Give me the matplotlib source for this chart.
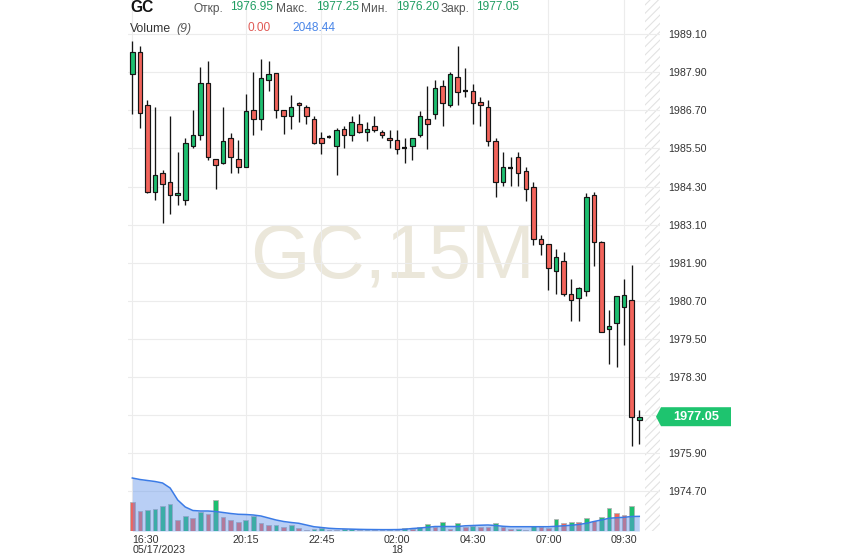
import matplotlib
matplotlib.use('Agg')
import matplotlib.pyplot as plt
import matplotlib.transforms as mtransforms
from matplotlib.patches import Rectangle, Polygon
import numpy as np

plt.rcParams['font.family'] = ['Liberation Sans', 'DejaVu Sans']
plt.rcParams['hatch.linewidth'] = 0.8

# ---------------- data ----------------
symbol = 'GC'
timeframe = '15M'
ma_period = 9

opens = [1987.83, 1988.53, 1986.88, 1984.13, 1984.73, 1984.44, 1984.03, 1983.87, 1985.58, 1985.92,
         1987.55, 1985.18, 1985.04, 1985.84, 1985.18, 1984.92, 1986.72, 1986.43, 1987.67, 1987.89,
         1986.72, 1986.53, 1986.94, 1986.81, 1986.43, 1985.83, 1985.86, 1985.58, 1986.12, 1985.93,
         1986.28, 1986.02, 1986.21, 1986.02, 1985.83, 1985.77, 1985.50, 1985.58, 1985.93, 1986.43,
         1986.59, 1987.48, 1986.88, 1987.76, 1987.30, 1987.32, 1986.97, 1986.81, 1985.74, 1984.44,
         1984.89, 1985.23, 1984.79, 1984.28, 1982.64, 1982.48, 1981.63, 1981.95, 1980.93, 1980.78,
         1981.00, 1984.03, 1982.55, 1979.80, 1979.99, 1980.52, 1980.74, 1976.95]
highs = [1988.88, 1988.74, 1987.04, 1986.81, 1984.82, 1986.53, 1985.39, 1985.84, 1986.72, 1988.08,
         1988.24, 1985.18, 1986.81, 1985.99, 1985.77, 1987.21, 1987.90, 1988.33, 1988.24, 1987.89,
         1986.72, 1987.19, 1986.97, 1986.88, 1986.53, 1986.02, 1985.93, 1986.15, 1986.21, 1986.53,
         1986.59, 1986.34, 1986.53, 1986.09, 1986.09, 1986.09, 1985.83, 1985.83, 1986.69, 1987.48,
         1987.64, 1987.64, 1987.92, 1988.74, 1988.02, 1987.54, 1987.13, 1987.04, 1985.83, 1985.39,
         1985.23, 1985.39, 1984.92, 1984.44, 1982.77, 1982.48, 1982.32, 1982.23, 1981.38, 1981.12,
         1984.10, 1984.13, 1982.58, 1980.40, 1980.84, 1981.38, 1981.82, 1977.25]
lows = [1986.58, 1986.13, 1984.10, 1983.87, 1983.16, 1983.42, 1983.72, 1983.72, 1985.51, 1985.76,
        1985.13, 1984.21, 1985.02, 1984.72, 1984.72, 1984.90, 1985.92, 1986.09, 1987.32, 1986.47,
        1985.94, 1986.12, 1986.34, 1986.26, 1985.63, 1985.32, 1985.84, 1984.66, 1985.52, 1985.74,
        1985.99, 1985.74, 1986.02, 1985.83, 1985.52, 1985.32, 1985.04, 1985.14, 1985.87, 1985.49,
        1986.43, 1986.21, 1986.81, 1986.88, 1987.13, 1986.28, 1986.21, 1985.58, 1983.97, 1984.32,
        1984.32, 1984.32, 1983.84, 1982.47, 1982.14, 1981.03, 1980.93, 1980.84, 1980.08, 1980.08,
        1980.84, 1981.79, 1979.73, 1978.72, 1978.63, 1979.31, 1976.13, 1976.20]
closes = [1988.53, 1986.62, 1984.13, 1984.67, 1984.39, 1984.03, 1984.10, 1985.68, 1985.93, 1987.55,
          1985.23, 1984.98, 1985.74, 1985.23, 1984.92, 1986.69, 1986.43, 1987.73, 1987.83, 1986.72,
          1986.53, 1986.81, 1986.88, 1986.53, 1985.66, 1985.66, 1985.86, 1986.09, 1985.93, 1986.34,
          1986.02, 1986.12, 1986.09, 1985.93, 1985.77, 1985.49, 1985.50, 1985.83, 1986.53, 1986.28,
          1987.41, 1986.94, 1987.83, 1987.29, 1987.30, 1986.94, 1986.88, 1985.74, 1984.44, 1984.92,
          1984.89, 1984.73, 1984.22, 1982.64, 1982.48, 1981.72, 1982.07, 1980.93, 1980.74, 1981.09,
          1983.97, 1982.55, 1979.73, 1979.92, 1980.84, 1980.87, 1977.05, 1977.05]
volumes = [4100, 2840, 2980, 3120, 3540, 3740, 1580, 2140, 1860, 2700,
           2420, 4380, 2000, 1580, 1220, 1580, 2140, 1080, 800, 820,
           520, 880, 460, 210, 350, 490, 140, 110, 280, 310,
           140, 170, 140, 110, 210, 170, 420, 280, 600, 1050,
           630, 1300, 320, 1080, 600, 700, 630, 600, 1080, 600,
           280, 320, 210, 770, 520, 490, 1720, 1080, 1300, 1260,
           1860, 1440, 2000, 3260, 2560, 2200, 3570, 0]
vol_ma = [7420, 7210, 7070, 6930, 6720, 6020, 4340, 3360, 2870, 2800,
          2800, 2730, 2590, 2450, 2340, 2310, 2240, 2100, 1820, 1540,
          1330, 1190, 1080, 840, 600, 490, 380, 320, 290, 260,
          230, 210, 200, 190, 190, 200, 240, 350, 420, 520,
          630, 630, 630, 630, 730, 770, 810, 840, 770, 660,
          600, 600, 600, 600, 600, 600, 660, 730, 800, 910,
          1080, 1330, 1540, 1780, 1860, 1920, 2030, 2048.44]
time_labels = ['16:30\n05/17/2023', '20:15', '22:45', '02:00\n18', '04:30', '07:00', '09:30']
time_label_idx = [0, 15, 25, 35, 45, 55, 65]
price_ticks = [1974.70, 1975.90, 1977.10, 1978.30, 1979.50, 1980.70, 1981.90,
               1983.10, 1984.30, 1985.50, 1986.70, 1987.90, 1989.10]
header_labels = ['Откр.', 'Макс.', 'Мин.', 'Закр.']

# ---------------- style ----------------
GREEN = '#1dbf70'
RED = '#f2645b'
EDGE = '#151515'
GRID = '#ececec'
TXT = '#333333'

W, H = 843, 558
fig = plt.figure(figsize=(W / 100, H / 100), dpi=100)
ax_l, ax_r, ax_t, ax_b = 128, 660, 0, 531
ax = fig.add_axes([ax_l / W, 1 - ax_b / H, (ax_r - ax_l) / W, (ax_b - ax_t) / H])

n = len(opens)
idx = np.arange(n)
xmin, xmax = -0.57, 69.74
ymin, ymax = 1973.45, 1990.175
ax.set_xlim(xmin, xmax)
ax.set_ylim(ymin, ymax)

for s in ax.spines.values():
    s.set_visible(False)

# gridlines
for t in price_ticks:
    ax.axhline(t, color=GRID, lw=0.8, zorder=0.6)
for t in time_label_idx:
    ax.axvline(t, color=GRID, lw=0.8, zorder=0.6)

# hatched future strip
blend = mtransforms.blended_transform_factory(ax.transData, ax.transAxes)
ax.add_patch(Rectangle((67.75, 0), xmax - 67.75, 1, transform=blend, facecolor='none',
                       edgecolor='#e2e2e2', hatch='////', lw=0, zorder=0.4))

# watermark
ax.text(0.498, 0.514, f'{symbol},{timeframe}', transform=ax.transAxes, fontsize=55,
        color='#ebe7da', ha='center', va='center', zorder=0.3)

# candles
for i in range(n):
    o, h, l, c = opens[i], highs[i], lows[i], closes[i]
    ax.vlines(i, l, h, color=EDGE, lw=0.95, zorder=3)
    lo, hi = min(o, c), max(o, c)
    if hi - lo < 0.02:
        ax.hlines((o + c) / 2, i - 0.3, i + 0.3, color=EDGE, lw=1.6, zorder=4)
    else:
        ax.bar(i, hi - lo, bottom=lo, width=0.6, color=GREEN if c > o else RED,
               edgecolor=EDGE, lw=0.85, zorder=4)

# volume (twin axis)
ax2 = ax.twinx()
ax2.set_ylim(0, (ax_b - ax_t) * 140)
ax2.set_xlim(xmin, xmax)
ax2.set_yticks([])
for s in ax2.spines.values():
    s.set_visible(False)
vcol = [RED] + [GREEN if volumes[i] >= volumes[i - 1] else RED for i in range(1, n)]
ax2.bar(idx, volumes, width=0.62, color=vcol, edgecolor='#b4b4b4', lw=0.6, zorder=2)
ax2.fill_between(idx, 0, vol_ma, color=(100 / 255, 150 / 255, 235 / 255), alpha=0.45, lw=0, zorder=3)
ax2.plot(idx, vol_ma, color='#3b7be6', lw=1.1, zorder=4)

# axes ticks (after twinx so the price labels stay on the right)
ax.yaxis.tick_right()
ax.yaxis.set_label_position('right')
ax.set_yticks(price_ticks)
ax.set_yticklabels([f'{t:.2f}' if abs(t - closes[-1]) > 0.3 else '' for t in price_ticks])
ax.tick_params(axis='y', which='both', left=False, right=False, labelleft=False,
               labelright=True, length=0, pad=5.8, labelsize=7.7, labelcolor=TXT)
ax.set_xticks(time_label_idx)
ax.set_xticklabels(time_labels)
ax.tick_params(axis='x', length=0, pad=3.2, labelsize=7.7, labelcolor=TXT)
for k, lab in enumerate(ax.get_xticklabels()):
    lab.set_linespacing(0.95)
    if k == 0:
        lab.set_ha('left')

# current price tag
fig.canvas.draw()
py = ax.transData.transform((0, closes[-1]))[1]
TAG = '#1ec46f'
x0, x1, hh = 661, 731, 9.5
tag = Polygon([(656 / W, py / H), (x0 / W, (py + hh) / H), (x1 / W, (py + hh) / H),
               (x1 / W, (py - hh) / H), (x0 / W, (py - hh) / H)], closed=True,
              transform=fig.transFigure, facecolor=TAG, edgecolor='none', zorder=10)
fig.patches.append(tag)
fig.text(696 / W, py / H, f'{closes[-1]:.2f}', color='white', fontsize=9.2, fontweight='bold',
         ha='center', va='center', zorder=11)

# header
def ftext(x, y, s, **kw):
    fig.text(x / W, 1 - y / H, s, va='center', ha='left', **kw)

ftext(130, 8, symbol, fontsize=11.2, fontweight='bold', color='#111111')
hv = [opens[-1], highs[-1], lows[-1], closes[-1]]
lab_x = [193, 276, 361, 441]
val_x = [230, 316, 396, 476]
for lx, vx, lab, v in zip(lab_x, val_x, header_labels, hv):
    ftext(lx, 9, lab, fontsize=8.6, color='#555555')
    ftext(vx, 7, f'{v:.2f}', fontsize=8.6, color='#1f9d62')
ftext(130, 29, 'Volume', fontsize=8.8, color=TXT)
ftext(176, 29, f'({ma_period})', fontsize=8.8, color='#555555', style='italic')
ftext(247, 28, f'{volumes[-1]:.2f}', fontsize=8.6, color='#e05a55')
ftext(292, 28, f'{vol_ma[-1]:.2f}', fontsize=8.6, color='#4a86e8')

fig.savefig('out.png', dpi=100)
